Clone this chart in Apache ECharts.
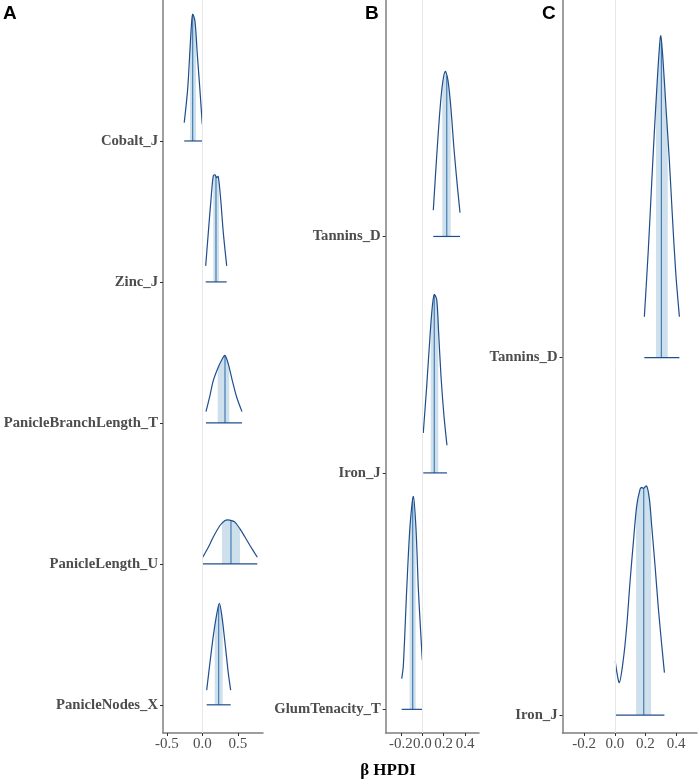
<!DOCTYPE html>
<html>
<head>
<meta charset="utf-8">
<script src="https://cdn.jsdelivr.net/npm/echarts@6/dist/echarts.min.js"></script>
<style>
  html, body { margin: 0; padding: 0; background: #fff; }
  #main { width: 699px; height: 783px; }
</style>
</head>
<body>
<div id="main"></div>
<script>
// ---- panel A (rows from bottom to top) ----
const namesA = ['PanicleNodes_X', 'PanicleLength_U', 'PanicleBranchLength_T', 'Zinc_J', 'Cobalt_J'];
const ticksA = [-0.5, 0, 0.5];

const nodesX = [0.062, 0.108, 0.155, 0.203, 0.24, 0.273, 0.32, 0.366, 0.4];
const nodesH = [0.104, 0.298, 0.487, 0.641, 0.719, 0.641, 0.44, 0.227, 0.104];
const nodesInner = [0.175, 0.287], nodesInnerH = [0.55, 0.58], nodesMed = [0.231, 0.71];

const lengthX = [0.006, 0.085, 0.155, 0.249, 0.32, 0.358, 0.414, 0.46, 0.531, 0.601, 0.672, 0.775];
const lengthH = [0.047, 0.118, 0.19, 0.272, 0.307, 0.312, 0.307, 0.296, 0.248, 0.19, 0.13, 0.047];
const lengthInner = [0.277, 0.531], lengthInnerH = [0.285, 0.248], lengthMed = [0.404, 0.308];

const branchX = [0.052, 0.108, 0.155, 0.225, 0.287, 0.32, 0.366, 0.423, 0.485, 0.559];
const branchH = [0.08, 0.194, 0.3, 0.395, 0.459, 0.478, 0.419, 0.3, 0.182, 0.08];
const branchInner = [0.217, 0.38], branchInnerH = [0.385, 0.4], branchMed = [0.32, 0.478];

const zincX = [0.048, 0.085, 0.123, 0.155, 0.179, 0.203, 0.225, 0.259, 0.296, 0.344];
const zincH = [0.114, 0.35, 0.587, 0.752, 0.76, 0.74, 0.748, 0.587, 0.35, 0.114];
const zincInner = [0.155, 0.235], zincInnerH = [0.752, 0.72], zincMed = [0.193, 0.75];

const cobaltX = [-0.254, -0.206, -0.173, -0.149, -0.135, -0.103, -0.07, -0.032, 0.0];
const cobaltH = [0.13, 0.366, 0.65, 0.85, 0.9, 0.85, 0.615, 0.355, 0.118];
const cobaltInner = [-0.173, -0.089], cobaltInnerH = [0.65, 0.75], cobaltMed = [-0.135, 0.9];

// ---- panel B ----
const namesB = ['GlumTenacity_T', 'Iron_J', 'Tannins_D'];
const ticksB = [-0.2, 0, 0.2, 0.4];

const glumX = [-0.193, -0.178, -0.146, -0.115, -0.084, -0.059, -0.037, -0.015, 0.0];
const glumH = [0.13, 0.183, 0.508, 0.776, 0.9, 0.762, 0.508, 0.325, 0.209];
const glumInner = [-0.119, -0.062], glumInnerH = [0.745, 0.78], glumMed = [-0.09, 0.88];

const ironBX = [0.009, 0.041, 0.072, 0.094, 0.112, 0.135, 0.153, 0.175, 0.203, 0.231];
const ironBH = [0.169, 0.366, 0.578, 0.705, 0.754, 0.733, 0.592, 0.409, 0.24, 0.117];
const ironBInner = [0.079, 0.15], ironBInnerH = [0.62, 0.615], ironBMed = [0.112, 0.754];

const tanninsBX = [0.103, 0.135, 0.166, 0.191, 0.216, 0.241, 0.266, 0.297, 0.328, 0.353];
const tanninsBH = [0.111, 0.341, 0.539, 0.652, 0.698, 0.658, 0.553, 0.369, 0.214, 0.101];
const tanninsBInner = [0.187, 0.266], tanninsBInnerH = [0.64, 0.553], tanninsBMed = [0.229, 0.68];

// ---- panel C ----
const namesC = ['Iron_J', 'Tannins_D'];
const ticksC = [-0.2, 0, 0.2, 0.4];

const ironCX = [0.003, 0.029, 0.056, 0.078, 0.099, 0.121, 0.143, 0.165, 0.176, 0.186, 0.208, 0.226, 0.241, 0.263, 0.285, 0.307, 0.324];
const ironCH = [0.15, 0.091, 0.157, 0.25, 0.371, 0.483, 0.585, 0.632, 0.637, 0.634, 0.641, 0.604, 0.529, 0.417, 0.296, 0.194, 0.119];
const ironCInner = [0.139, 0.237], ironCInnerH = [0.57, 0.55], ironCMed = [0.189, 0.635];

const tanninsCX = [0.193, 0.219, 0.241, 0.258, 0.274, 0.289, 0.3, 0.313, 0.335, 0.356, 0.376, 0.398, 0.422];
const tanninsCH = [0.114, 0.303, 0.489, 0.629, 0.75, 0.853, 0.9, 0.843, 0.694, 0.554, 0.396, 0.238, 0.114];
const tanninsCInner = [0.269, 0.346], tanninsCInnerH = [0.72, 0.62], tanninsCMed = [0.304, 0.88];

function curve(row, x, h, inner, innerH, med) {
    return {row: row, x: x, h: h, inner: inner, innerH: innerH, med: med};
}

const curvesA = [
    curve(0, nodesX, nodesH, nodesInner, nodesInnerH, nodesMed),
    curve(1, lengthX, lengthH, lengthInner, lengthInnerH, lengthMed),
    curve(2, branchX, branchH, branchInner, branchInnerH, branchMed),
    curve(3, zincX, zincH, zincInner, zincInnerH, zincMed),
    curve(4, cobaltX, cobaltH, cobaltInner, cobaltInnerH, cobaltMed)
];
const curvesB = [
    curve(0, glumX, glumH, glumInner, glumInnerH, glumMed),
    curve(1, ironBX, ironBH, ironBInner, ironBInnerH, ironBMed),
    curve(2, tanninsBX, tanninsBH, tanninsBInner, tanninsBInnerH, tanninsBMed)
];
const curvesC = [
    curve(0, ironCX, ironCH, ironCInner, ironCInnerH, ironCMed),
    curve(1, tanninsCX, tanninsCH, tanninsCInner, tanninsCInnerH, tanninsCMed)
];

const lineColor = '#1f4e8c';
const medColor = '#3b74b0';
const shadeColor = '#cde0ec';
const axisGray = '#7f7f7f';
const textGray = '#4d4d4d';
const serif = '"Liberation Serif", "DejaVu Serif", serif';

function renderRidge(curves) {
    return function (params, api) {
        const c = curves[params.dataIndex];
        const pt = (x, h) => api.coord([x, c.row + h]);

        // shaded inner interval under the curve
        let shade = [pt(c.inner[0], 0), pt(c.inner[0], c.innerH[0])];
        c.x.forEach((x, i) => {
            if (x > c.inner[0] && x < c.inner[1]) shade.push(pt(x, c.h[i]));
        });
        shade.push(pt(c.inner[1], c.innerH[1]), pt(c.inner[1], 0));

        const outline = c.x.map((x, i) => pt(x, c.h[i]));
        const b0 = pt(c.x[0], 0), b1 = pt(c.x[c.x.length - 1], 0);
        const m0 = pt(c.med[0], 0), m1 = pt(c.med[0], c.med[1]);

        return {
            type: 'group',
            children: [
                {type: 'polygon', shape: {points: shade}, style: {fill: shadeColor}},
                {type: 'line', shape: {x1: m0[0], y1: m0[1], x2: m1[0], y2: m1[1]},
                    style: {stroke: medColor, lineWidth: 1.1}},
                {type: 'polyline', shape: {points: outline, smooth: 0.3},
                    style: {stroke: lineColor, fill: 'none', lineWidth: 1.2}},
                {type: 'line', shape: {x1: b0[0], y1: b0[1], x2: b1[0], y2: b1[1]},
                    style: {stroke: lineColor, lineWidth: 1.2}}
            ]
        };
    };
}

function xAxisFor(idx, min, max, ticks) {
    return {
        type: 'value', gridIndex: idx, min: min, max: max,
        axisLine: {show: true, onZero: false, lineStyle: {color: axisGray, width: 1.5}},
        axisTick: {show: true, length: 3, customValues: ticks, lineStyle: {color: '#333'}},
        axisLabel: {
            customValues: ticks, margin: 4, color: textGray,
            fontFamily: serif, fontSize: 15,
            formatter: v => v.toFixed(1)
        },
        splitLine: {show: false}
    };
}

function yAxisFor(idx, min, max, names) {
    return {
        type: 'value', gridIndex: idx, min: min, max: max,
        axisLine: {show: true, onZero: false, lineStyle: {color: axisGray, width: 1.5}},
        axisTick: {show: true, length: 3, customValues: names.map((n, i) => i), lineStyle: {color: '#333'}},
        axisLabel: {
            customValues: names.map((n, i) => i), margin: 5, color: textGray,
            fontFamily: serif, fontSize: 14.7, fontWeight: 'bold',
            formatter: v => names[Math.round(v)]
        },
        splitLine: {show: false}
    };
}

function seriesFor(idx, curves) {
    return {
        type: 'custom', xAxisIndex: idx, yAxisIndex: idx,
        renderItem: renderRidge(curves),
        data: curves.map(c => [c.med[0], c.row]),
        encode: {x: 0, y: 1},
        silent: true,
        markLine: {
            silent: true, symbol: 'none', label: {show: false},
            lineStyle: {color: '#e8e8e8', width: 1, type: 'solid'},
            data: [{xAxis: 0}]
        }
    };
}

var chartDom = document.getElementById('main');
var myChart = echarts.init(chartDom);

var option = {
    animation: false,
    backgroundColor: '#fff',
    grid: [
        {left: 163, top: 0, width: 100, height: 733, outerBoundsMode: 'none'},
        {left: 385.7, top: 0, width: 93.3, height: 733, outerBoundsMode: 'none'},
        {left: 562.5, top: 0, width: 134.5, height: 733, outerBoundsMode: 'none'}
    ],
    xAxis: [
        xAxisFor(0, -0.553, 0.855, ticksA),
        xAxisFor(1, -0.343, 0.531, ticksB),
        xAxisFor(2, -0.342, 0.537, ticksC)
    ],
    yAxis: [
        yAxisFor(0, -0.2, 5.0, namesA),
        yAxisFor(1, -0.1, 3.0, namesB),
        yAxisFor(2, -0.05, 2.0, namesC)
    ],
    series: [seriesFor(0, curvesA), seriesFor(1, curvesB), seriesFor(2, curvesC)],
    graphic: [
        {type: 'text', left: 3, top: 4, style: {text: 'A', font: 'bold 19px "Liberation Sans", Arial, sans-serif', fill: '#000'}},
        {type: 'text', left: 365, top: 4, style: {text: 'B', font: 'bold 19px "Liberation Sans", Arial, sans-serif', fill: '#000'}},
        {type: 'text', left: 542, top: 4, style: {text: 'C', font: 'bold 19px "Liberation Sans", Arial, sans-serif', fill: '#000'}},
        {type: 'text', x: 388, y: 771, style: {
            text: 'β HPDI', font: 'bold 17px "Liberation Serif", serif', fill: '#000',
            align: 'center', verticalAlign: 'middle'
        }}
    ]
};
option && myChart.setOption(option);
</script>
</body>
</html>
